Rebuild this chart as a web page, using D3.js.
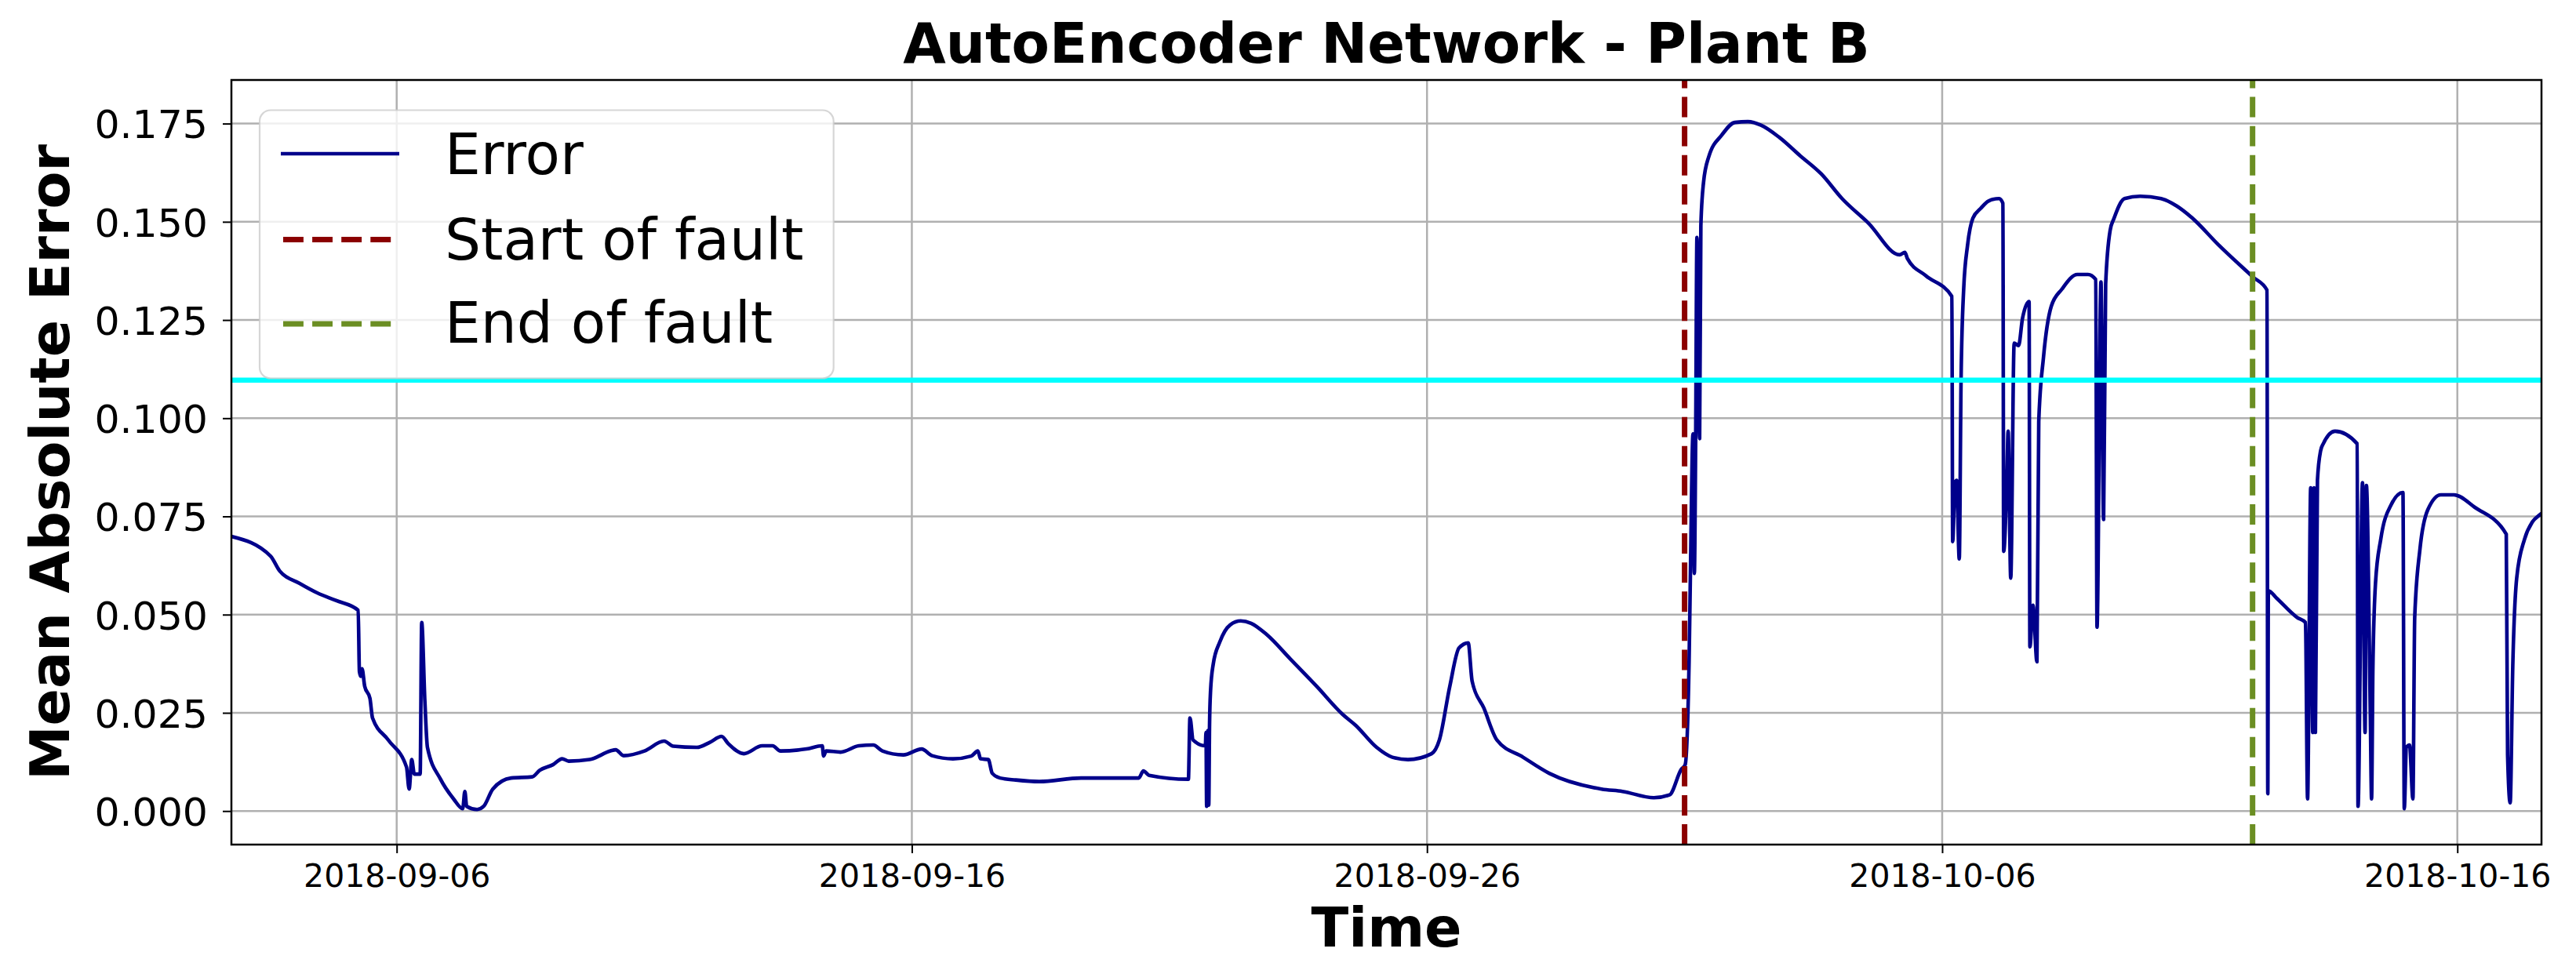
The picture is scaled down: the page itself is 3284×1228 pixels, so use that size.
<!DOCTYPE html>
<html><head><meta charset="utf-8">
<script src="https://cdn.jsdelivr.net/npm/d3@7"></script>
<style>
html,body{margin:0;padding:0;background:#fff;}
svg{display:block;}
text{font-family:"DejaVu Sans",sans-serif;fill:#000;}
</style>
</head><body>
<svg id="chart" width="3284" height="1228"></svg>
<script>
// ---------------- DATA ----------------
const baseTime = "2018-09-06T00:00";   // hours below are counted from this instant
const errorHours = [
 -77.0,-58.77,-54.49,-45.35,-36.84,-28.32,-17.94,-17.36,-16.74,-16.12,
 -14.91,-12.46,-11.26,-3.95,4.57,5.81,7.02,8.22,10.93,11.66,
 13.12,14.33,20.43,26.5,30.77,31.76,32.6,37.46,40.53,44.77,
 53.32,63.04,66.7,72.8,77.08,80.11,89.87,99.59,102.04,105.69,
 115.45,124.59,128.82,139.79,145.89,151.37,154.41,161.72,170.27,175.13,
 178.78,190.95,198.26,198.88,200.09,206.81,215.33,222.02,226.29,236.05,
 244.57,249.43,259.18,267.7,270.77,271.97,275.63,277.46,281.11,288.42,
 299.38,318.86,345.69,347.88,350.55,368.83,369.56,371.02,376.75,377.04,
 377.34,377.96,378.32,378.69,379.16,380.41,383.44,388.3,393.2,398.06,
 405.37,416.33,428.5,440.71,446.78,456.53,463.84,471.15,
 482.11,485.77,490.63,494.9,499.18,501.01,506.49,512.56,524.76,536.93,
 561.31,571.03,585.65,592.96,598.44,600.27,602.09,602.71,603.92,604.54,
 605.16,605.75,607.0,607.58,608.82,611.23,617.34,623.44,629.51,635.61,
 644.12,653.88,
 663.64,673.36,685.57,700.19,702.6,703.84,712.36,724.52,724.89,725.99,
 726.72,727.96,728.8,730.01,731.84,734.28,737.94,741.59,746.46,748.29,
 748.65,750.11,750.73,751.94,753.54,755.59,757.42,760.49,760.86,762.32,
 764.15,764.99,767.18,770.83,775.69,783.0,787.9,791.55,792.14,793.97,
 795.21,796.16,798.24,800.07,804.93,812.24,821.99,829.3,836.61,
 848.78,864.64,871.33,871.7,871.95,875.61,885.33,889.24,890.23,891.69,
 892.64,893.26,893.88,894.83,896.3,897.54,903.02,913.36,913.73,915.81,
 917.02,917.63,919.46,920.04,920.67,921.87,924.32,929.18,934.66,935.28,
 936.27,937.73,939.3,940.14,942.59,946.24,952.35,958.41,968.17,982.79,
 983.41,984.61,985.82,987.65,991.3,994.96,998.61,999.2
];
const errorValues = [
 0.0699,0.0649,0.0611,0.0580,0.0555,0.0536,0.0511,0.0355,0.0343,0.0362,
 0.0318,0.0287,0.0237,0.0181,0.0112,0.0056,0.0131,0.0094,0.0094,0.0480,
 0.0281,0.0162,0.0081,0.0031,0.0006,0.0050,0.0012,0.0004,0.0012,0.0056,
 0.0084,0.0087,0.0104,0.0118,0.0133,0.0127,0.0131,0.0153,0.0156,0.0141,
 0.0153,0.0178,0.0165,0.0162,0.0175,0.0190,0.0172,0.0146,0.0166,0.0166,
 0.0153,0.0158,0.0166,0.0140,0.0153,0.0150,0.0166,0.0168,0.0153,0.0143,
 0.0158,0.0141,0.0133,0.0140,0.0153,0.0133,0.0131,0.0096,0.0084,0.0079,
 0.0075,0.0084,0.0084,0.0102,0.0091,0.0081,0.0237,0.0181,0.0166,0.0200,
 0.0012,0.0205,0.0015,0.0220,0.0306,0.0374,0.0430,0.0474,0.0484,0.0478,
 0.0449,0.0387,0.0318,0.0246,0.0218,0.0162,0.0137,0.0131,
 0.0146,0.0181,0.0318,0.0415,0.0428,0.0331,0.0262,0.0181,0.0137,0.0096,
 0.0056,0.0050,0.0034,0.0041,0.0106,0.0118,0.0380,0.0605,0.0960,0.0605,
 0.0948,0.1460,0.0948,0.1490,0.1600,0.1665,0.1721,0.1753,0.1755,0.1746,
 0.1715,0.1668,
 0.1622,0.1559,0.1497,0.1416,0.1422,0.1406,0.1363,0.1310,0.0686,0.0836,
 0.0842,0.0642,0.1098,0.1328,0.1441,0.1509,0.1534,0.1553,0.1559,0.1547,
 0.0661,0.0842,0.0967,0.0593,0.1191,0.1185,0.1254,0.1297,0.0418,0.0524,
 0.0380,0.0992,0.1154,0.1285,0.1328,0.1366,0.1366,0.1353,0.0468,0.1347,
 0.0742,0.1341,0.1478,0.1509,0.1559,0.1565,0.1559,0.1540,0.1509,
 0.1441,0.1360,0.1326,0.0044,0.0561,0.0543,0.0493,0.0480,0.0031,0.0823,
 0.0200,0.0823,0.0200,0.0842,0.0917,0.0935,0.0967,0.0935,0.0012,0.0836,
 0.0200,0.0829,0.0243,0.0031,0.0368,0.0580,0.0692,0.0780,0.0811,0.0006,
 0.0162,0.0168,0.0031,0.0493,0.0667,0.0767,0.0805,0.0805,0.0773,0.0705,
 0.0143,0.0021,0.0368,0.0593,0.0692,0.0736,0.0755,0.0758
];
const thresholdValue = 0.1097;
const faultStart = "2018-10-01T00:00";
const faultEnd = "2018-10-12T00:36";
const xTickLabels = ["2018-09-06","2018-09-16","2018-09-26","2018-10-06","2018-10-16"];
const yTickValues = [0, 0.025, 0.05, 0.075, 0.1, 0.125, 0.15, 0.175];
const legendLabels = ["Error", "Start of fault", "End of fault"];
const xDomainHours = [-77.0, 999.2];
const yDomain = [-0.00854, 0.1861];
const titleText = "AutoEncoder Network - Plant B";
const xLabelText = "Time";
const yLabelText = "Mean Absolute Error";

// ---------------- CHART ----------------
const plot = {left: 295, right: 3240, top: 102, bottom: 1077};
const colors = {error: "#00008B", start: "#8B0000", end: "#6B8E23", thr: "#00FFFF", grid: "#b0b0b0"};
const parseDT = d3.utcParse("%Y-%m-%dT%H:%M");
const parseD = d3.utcParse("%Y-%m-%d");
const base = parseDT(baseTime);
const toDate = h => new Date(base.getTime() + h * 3600e3);

const x = d3.scaleUtc().domain(xDomainHours.map(toDate)).range([plot.left, plot.right]);
const y = d3.scaleLinear().domain(yDomain).range([plot.bottom, plot.top]);

const svg = d3.select("#chart");
svg.append("rect").attr("width", 3284).attr("height", 1228).attr("fill", "#fff");

svg.append("defs").append("clipPath").attr("id", "clip")
  .append("rect").attr("x", plot.left).attr("y", plot.top)
  .attr("width", plot.right - plot.left).attr("height", plot.bottom - plot.top);

const xTicks = xTickLabels.map(parseD);

// grid
const grid = svg.append("g");
grid.selectAll("line.gx").data(xTicks).join("line")
  .attr("x1", d => x(d)).attr("x2", d => x(d))
  .attr("y1", plot.top).attr("y2", plot.bottom)
  .attr("stroke", colors.grid).attr("stroke-width", 2.5);
grid.selectAll("line.gy").data(yTickValues).join("line")
  .attr("x1", plot.left).attr("x2", plot.right)
  .attr("y1", d => y(d)).attr("y2", d => y(d))
  .attr("stroke", colors.grid).attr("stroke-width", 2.5);

const data = errorHours.map((h, i) => ({t: toDate(h), v: errorValues[i]}));
const inner = svg.append("g").attr("clip-path", "url(#clip)");

inner.append("path").datum(data)
  .attr("d", d3.line().curve(d3.curveMonotoneX).x(d => x(d.t)).y(d => y(d.v)))
  .attr("fill", "none").attr("stroke", colors.error)
  .attr("stroke-width", 4.6).attr("stroke-linejoin", "round").attr("stroke-linecap", "butt");

[[faultStart, colors.start], [faultEnd, colors.end]].forEach(([t, c]) => {
  const xx = x(parseDT(t));
  inner.append("line").attr("x1", xx).attr("x2", xx)
    .attr("y1", plot.bottom).attr("y2", plot.top)
    .attr("stroke", c).attr("stroke-width", 7).attr("stroke-dasharray", "25.9 11.2");
});

inner.append("line").attr("x1", plot.left).attr("x2", plot.right)
  .attr("y1", y(thresholdValue)).attr("y2", y(thresholdValue))
  .attr("stroke", colors.thr).attr("stroke-width", 6.5);

// axes (spines + ticks)
const xAxis = d3.axisBottom(x).tickValues(xTicks).tickFormat(d3.utcFormat("%Y-%m-%d"))
  .tickSize(11).tickPadding(14);
const gx = svg.append("g").attr("transform", `translate(0,${plot.bottom})`).call(xAxis);
gx.select(".domain").remove();
gx.selectAll(".tick line").attr("stroke", "#000").attr("stroke-width", 2);
gx.selectAll(".tick text").attr("font-size", 41).attr("font-family", "DejaVu Sans")
  .attr("dy", null).attr("y", 1131.4 - plot.bottom);

const yAxis = d3.axisLeft(y).tickValues(yTickValues).tickFormat(d3.format(".3f"))
  .tickSize(11).tickPadding(19);
const gy = svg.append("g").attr("transform", `translate(${plot.left},0)`).call(yAxis);
gy.select(".domain").remove();
gy.selectAll(".tick line").attr("stroke", "#000").attr("stroke-width", 2);
gy.selectAll(".tick text").attr("font-size", 50.5).attr("font-family", "DejaVu Sans")
  .attr("dy", "0.364em");

svg.append("rect").attr("x", plot.left).attr("y", plot.top)
  .attr("width", plot.right - plot.left).attr("height", plot.bottom - plot.top)
  .attr("fill", "none").attr("stroke", "#000").attr("stroke-width", 2.5);

// titles
svg.append("text").attr("x", (plot.left + plot.right) / 2).attr("y", 80.4)
  .attr("text-anchor", "middle").attr("font-size", 70.5).attr("font-weight", "bold")
  .text(titleText);
svg.append("text").attr("x", (plot.left + plot.right) / 2).attr("y", 1206.7)
  .attr("text-anchor", "middle").attr("font-size", 70).attr("font-weight", "bold")
  .text(xLabelText);
svg.append("text").attr("transform", `translate(87.7,${(plot.top + plot.bottom) / 2}) rotate(-90)`)
  .attr("text-anchor", "middle").attr("font-size", 70).attr("font-weight", "bold")
  .text(yLabelText);

// legend
const lg = svg.append("g");
lg.append("rect").attr("x", 331).attr("y", 140.5).attr("width", 731.7).attr("height", 342)
  .attr("rx", 14).attr("ry", 14)
  .attr("fill", "#fff").attr("fill-opacity", 0.8)
  .attr("stroke", "#cccccc").attr("stroke-opacity", 0.8).attr("stroke-width", 2.2);
const legendRows = [
  {label: legendLabels[0], color: colors.error, dash: null, w: 4.6, hy: 196, ty: 221.6},
  {label: legendLabels[1], color: colors.start, dash: "25.9 11.2", w: 7, hy: 305.5, ty: 330.8},
  {label: legendLabels[2], color: colors.end, dash: "25.9 11.2", w: 7, hy: 413, ty: 437}
];
legendRows.forEach(r => {
  lg.append("line").attr("x1", r.dash ? 361 : 358).attr("x2", 509)
    .attr("y1", r.hy).attr("y2", r.hy)
    .attr("stroke", r.color).attr("stroke-width", r.w)
    .attr("stroke-dasharray", r.dash);
  lg.append("text").attr("x", 567).attr("y", r.ty).attr("font-size", 72.5).text(r.label);
});
</script>
</body></html>
